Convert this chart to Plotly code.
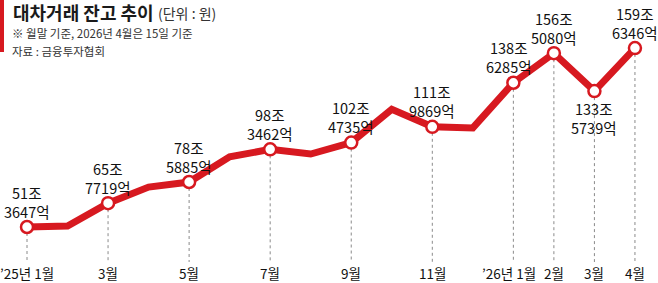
import plotly.graph_objects as go

# ---- data (조 원) ----
months = ["’25년 1월", "2월", "3월", "4월", "5월", "6월", "7월", "8월", "9월", "10월",
          "11월", "12월", "’26년 1월", "2월", "3월", "4월"]
values = [51.3647, 52.0, 65.7719, 75.5, 78.5885, 93.8, 98.3462, 95.5, 102.4735, 122.6,
          111.9869, 111.3, 138.6285, 156.5080, 133.5739, 159.6346]
labeled_idx = [0, 2, 4, 6, 8, 10, 12, 13, 14, 15]
label_jo = ["51조", "65조", "78조", "98조", "102조", "111조", "138조", "156조", "133조", "159조"]
label_eok = ["3647억", "7719억", "5885억", "3462억", "4735억", "9869억", "6285억", "5080억", "5739억", "6346억"]
label_below = [False, False, False, False, False, False, False, False, True, False]
tick_idx = [0, 2, 4, 6, 8, 10, 12, 13, 14, 15]

title = "대차거래 잔고 추이"
unit = "(단위 : 원)"
note = "※ 월말 기준, 2026년 4월은 15일 기준"
source = "자료 : 금융투자협회"

RED = "#d71920"
FONT = "Noto Sans CJK KR"
W, H = 658, 283

# axis mapping
x_px0, x_step = 27, 40.53
y_ref_px, y_ref_val, y_scale = 227, values[0], 1.653
x_range = [-x_px0 / x_step, (W - x_px0) / x_step]
y_range = [y_ref_val - (H - y_ref_px) / y_scale, y_ref_val + y_ref_px / y_scale]
drop_bottom = y_ref_val - (262 - y_ref_px) / y_scale

fig = go.Figure()

# dotted drop lines
for i in labeled_idx:
    fig.add_trace(go.Scatter(x=[i, i], y=[values[i], drop_bottom], mode="lines",
                             line=dict(color="#8a8a8a", width=1, dash="dot"),
                             hoverinfo="skip", showlegend=False))

# main line
fig.add_trace(go.Scatter(x=list(range(len(values))), y=values, mode="lines",
                         line=dict(color=RED, width=7), showlegend=False))
# markers
fig.add_trace(go.Scatter(x=labeled_idx, y=[values[i] for i in labeled_idx], mode="markers",
                         marker=dict(size=12, color="white", line=dict(color=RED, width=2.5)),
                         showlegend=False))

ann = []
for k, i in enumerate(labeled_idx):
    dx = -4 if i == 12 else 0
    shift = -26.5 if label_below[k] else 25.5
    ann.append(dict(x=i, y=values[i], xref="x", yref="y",
                    text=label_jo[k] + "<br>" + label_eok[k], showarrow=False,
                    yshift=shift, xshift=dx, borderpad=0,
                    font=dict(family=FONT, size=14.5, color="#111")))

for i in tick_idx:
    dx = -4 if i == 12 else 0
    ann.append(dict(x=i, y=1 - 273 / H, xref="x", yref="paper", text=months[i], showarrow=False,
                    yanchor="middle", xshift=dx, borderpad=0,
                    font=dict(family=FONT, size=13.5, color="#111")))

ann.append(dict(x=12 / W, y=1 - 12.5 / H, xref="paper", yref="paper", text="<b>" + title + "</b>",
                showarrow=False, xanchor="left", yanchor="middle", borderpad=0,
                font=dict(family=FONT, size=18, color="#1a1a1a")))
ann.append(dict(x=157 / W, y=1 - 13 / H, xref="paper", yref="paper", text=unit,
                showarrow=False, xanchor="left", yanchor="middle", borderpad=0,
                font=dict(family=FONT, size=14, color="#333")))
ann.append(dict(x=11 / W, y=1 - 33 / H, xref="paper", yref="paper", text=note,
                showarrow=False, xanchor="left", yanchor="middle", borderpad=0,
                font=dict(family=FONT, size=11.5, color="#333")))
ann.append(dict(x=11 / W, y=1 - 51 / H, xref="paper", yref="paper", text=source,
                showarrow=False, xanchor="left", yanchor="middle", borderpad=0,
                font=dict(family=FONT, size=11.5, color="#333")))

fig.update_layout(
    width=W, height=H, margin=dict(l=0, r=0, t=0, b=0),
    paper_bgcolor="white", plot_bgcolor="white",
    xaxis=dict(range=x_range, visible=False, fixedrange=True),
    yaxis=dict(range=y_range, visible=False, fixedrange=True),
    annotations=ann,
    shapes=[dict(type="rect", xref="paper", yref="paper", x0=0, x1=4 / W, y0=1 - 52 / H, y1=1,
                 fillcolor=RED, line=dict(width=0))],
    showlegend=False,
)

fig.write_html("out.html")
